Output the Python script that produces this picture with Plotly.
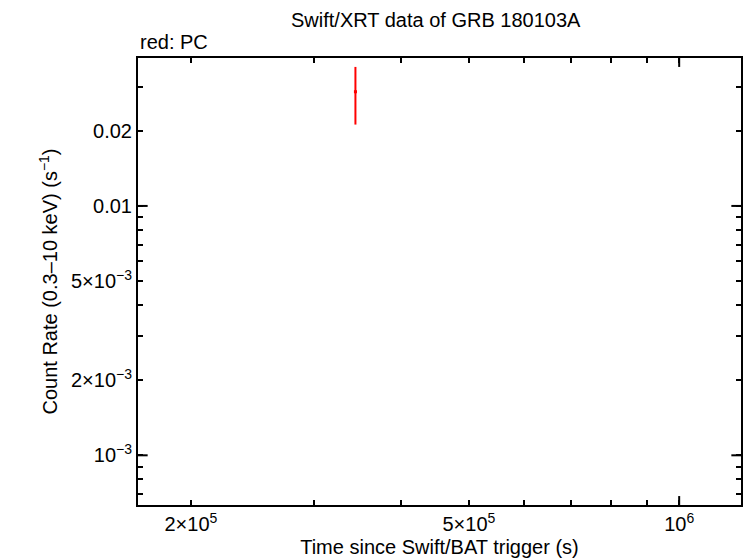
import math
import plotly.graph_objects as go

# PC mode data point
time_s = [3.44e5]
time_err = [1.5e3]
rate = [0.0287]
rate_err_hi = [0.0361 - 0.0287]
rate_err_lo = [0.0287 - 0.0212]

x_range = [1.68e5, 1.226e6]
y_range = [6.32e-4, 0.0392]

x_tickvals = [2e5, 5e5, 1e6]
x_ticktext = ["2×10<sup>5</sup>", "5×10<sup>5</sup>", "10<sup>6</sup>"]
x_minor = [3e5, 4e5, 6e5, 7e5, 8e5, 9e5]

y_tickvals = [1e-3, 2e-3, 5e-3, 0.01, 0.02]
y_ticktext = ["10<sup>−3</sup>", "2×10<sup>−3</sup>", "5×10<sup>−3</sup>", "0.01", "0.02"]
y_minor = [7e-4, 8e-4, 9e-4, 3e-3, 4e-3, 6e-3, 7e-3, 8e-3, 9e-3, 0.03]
y_decades = [1e-3, 0.01]
x_decades = [1e6]

FONT = "Liberation Sans, Arial, Helvetica, sans-serif"
FS = 20

fig = go.Figure()
fig.add_trace(go.Scatter(
    x=time_s, y=rate, mode="markers",
    marker=dict(color="#ff0000", size=3, symbol="square"),
    error_x=dict(type="data", array=time_err, color="#ff0000", thickness=2, width=0),
    error_y=dict(type="data", array=rate_err_hi, arrayminus=rate_err_lo,
                 color="#ff0000", thickness=2, width=0),
    showlegend=False,
))

axis_common = dict(
    type="log", showgrid=False, zeroline=False, showline=True, linecolor="black",
    linewidth=2, mirror="allticks", ticks="inside", ticklen=5, tickwidth=2,
    tickcolor="black", tickmode="array",
    tickfont=dict(family=FONT, size=FS, color="black"),
)

fig.update_xaxes(
    **axis_common, range=[math.log10(v) for v in x_range],
    tickvals=x_tickvals, ticktext=x_ticktext,
    minor=dict(tickmode="array", tickvals=x_minor, ticks="inside", ticklen=5,
               tickwidth=2, tickcolor="black"),
    title=dict(text="Time since Swift/BAT trigger (s)", font=dict(family=FONT, size=FS), standoff=6),
)
fig.update_yaxes(
    **axis_common, range=[math.log10(v) for v in y_range],
    tickvals=y_tickvals, ticktext=y_ticktext,
    minor=dict(tickmode="array", tickvals=y_minor, ticks="inside", ticklen=5,
               tickwidth=2, tickcolor="black"),
    title=dict(text="Count Rate (0.3–10 keV) (s<sup>−1</sup>)", font=dict(family=FONT, size=FS), standoff=8),
)

# longer ticks at decades
for yv in y_decades:
    for x0, x1 in [(0, 0.016), (0.984, 1)]:
        fig.add_shape(type="line", xref="x domain", yref="y", x0=x0, x1=x1, y0=yv, y1=yv,
                      line=dict(color="black", width=2))
for xv in x_decades:
    for y0, y1 in [(0, 0.02), (0.98, 1)]:
        fig.add_shape(type="line", xref="x", yref="y domain", x0=xv, x1=xv, y0=y0, y1=y1,
                      line=dict(color="black", width=2))

fig.add_annotation(text="Swift/XRT data of GRB 180103A", xref="paper", yref="paper",
                   x=0.495, y=1.0, yshift=38, yanchor="middle", showarrow=False,
                   font=dict(family=FONT, size=FS, color="black"))
fig.add_annotation(text="red: PC", xref="paper", yref="paper", x=0, y=1.0, yshift=16,
                   xanchor="left", yanchor="middle", showarrow=False,
                   font=dict(family=FONT, size=FS, color="black"))

fig.update_layout(
    width=746, height=558,
    margin=dict(l=138, r=3, t=58, b=50),
    plot_bgcolor="white", paper_bgcolor="white",
    font=dict(family=FONT, color="black"),
)

# drop the default 8px body margin so the figure fills the window exactly
fig.write_html(
    "out.html",
    config={"displayModeBar": False},
    post_script="document.body.style.margin='0';document.body.style.overflow='hidden';",
)
